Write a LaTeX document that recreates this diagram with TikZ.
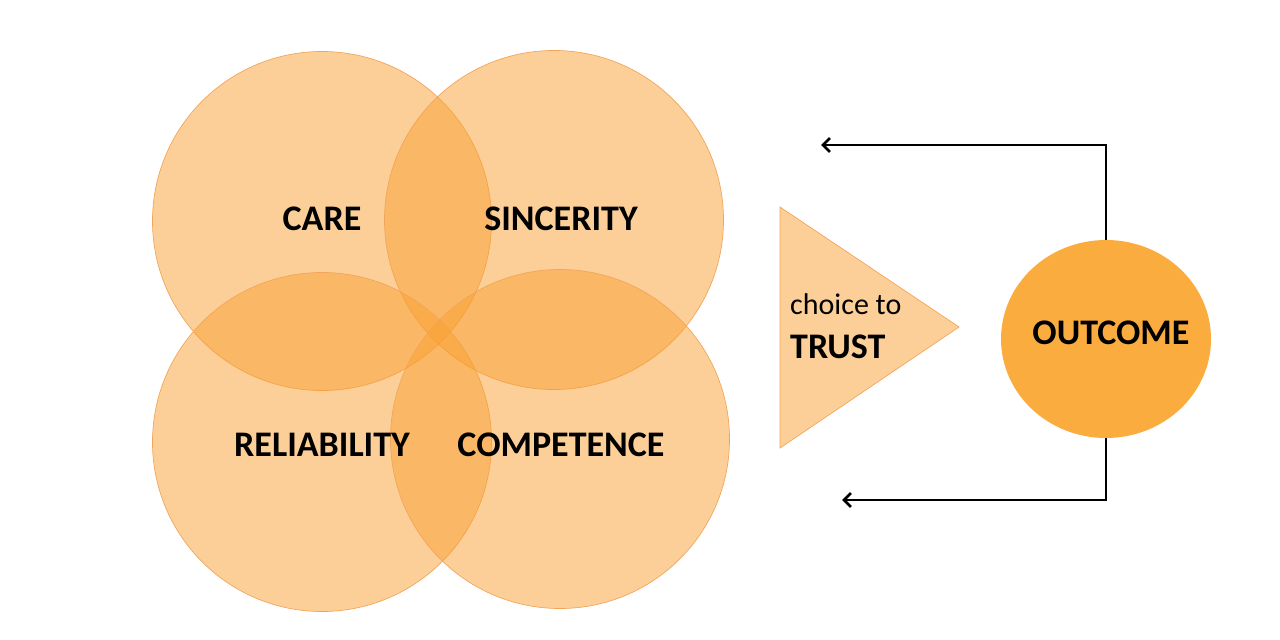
\documentclass[tikz,border=0pt]{standalone}
\usepackage{fontspec}
\setmainfont{Carlito}
\usepackage{tikz}
\usetikzlibrary{calc, arrows.meta, shapes.geometric, positioning}

\definecolor{peach}{RGB}{249,160,50}
\definecolor{rimorange}{RGB}{242,165,90}
\definecolor{outcomeorange}{RGB}{251,172,62}

\tikzset{
	venn/.style={circle, minimum size=339, inner sep=0, fill=peach, fill opacity=0.5, draw=rimorange, line width=0.7},
	venntext/.style={font=\bfseries\fontsize{36}{40}\selectfont, text=black},
	feedback/.style={line width=2.7, -{Straight Barb[length=7, width=14]}}
}

\begin{document}
\begin{tikzpicture}[x=1pt, y=-1pt]
	\useasboundingbox (0,0) rectangle (1280,640);
	\node[venn] (care) at (322,221) {};
	\node[venn] (sincerity) at (554,220) {};
	\node[venn] (reliability) at (322,442) {};
	\node[venn] (competence) at (560,439) {};
	\node[venntext] at (322,219) {CARE};
	\node[venntext] at (561,219) {SINCERITY};
	\node[venntext] at (322,445) {RELIABILITY};
	\node[venntext] at (561,445) {COMPETENCE};
	\draw[fill=peach, fill opacity=0.5, draw=rimorange, line width=0.7] (780,207) coordinate (tria) -- (959,327) coordinate (trib) -- (780,448) coordinate (tric) -- cycle;
	\node[anchor=base west, inner sep=0, font=\fontsize{30}{34}\selectfont] (choice) at (790,314) {choice to};
	\node[anchor=base west, inner sep=0, font=\bfseries\fontsize{36}{40}\selectfont] (trust) at (790,358) {TRUST};
	\node[ellipse, minimum width=210, minimum height=198, inner sep=0, fill=outcomeorange] (outcome) at (1106,339) {};
	\node[venntext] at (1111,333) {OUTCOME};
	\coordinate (topend) at (821,145);
	\coordinate (botend) at (842,500);
	\draw[feedback] (outcome.north) |- (topend);
	\draw[feedback] (outcome.south) |- (botend);
\end{tikzpicture}
\end{document}
